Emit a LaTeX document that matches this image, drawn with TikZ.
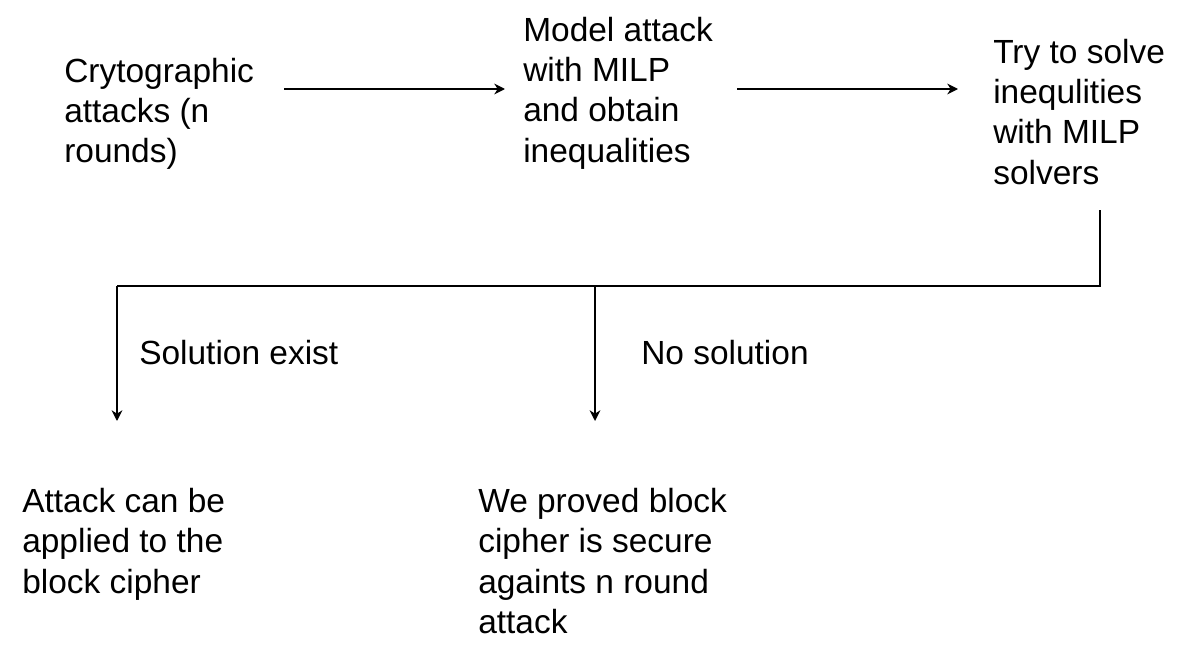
\documentclass[tikz,border=0pt]{standalone}
\usepackage{fontspec}
\setmainfont{Liberation Sans}
\usetikzlibrary{arrows.meta}
\begin{document}
\begin{tikzpicture}[x=0.75pt,y=-0.75pt,
  txt/.style={anchor=north west,inner sep=0pt,align=left,font=\fontsize{25.1pt}{30.3pt}\selectfont},
  conn/.style={line width=2.2pt},
  arr/.style={conn,-{Stealth[length=8pt,width=8pt,inset=2.5pt]}}]
\fill[white] (0,0) rectangle (1182,653);
\useasboundingbox (0,0) rectangle (1182,653);
\node[txt] (crypto) at (64,57.5) {Crytographic\\attacks (n\\rounds)};
\node[txt] (model) at (523,16.5) {Model attack\\with MILP\\and obtain\\inequalities};
\node[txt] (solve) at (993,38.5) {Try to solve\\inequlities\\with MILP\\solvers};
\node[txt] (lyes) at (139,340) {Solution exist};
\node[txt] (lno) at (641,340) {No solution};
\node[txt] (attack) at (22,488) {Attack can be\\applied to the\\block cipher};
\node[txt] (secure) at (478,488) {We proved block\\cipher is secure\\againts n round\\attack};
\coordinate (a1s) at (284,89);
\coordinate (a1e) at (505,89);
\coordinate (a2s) at (737,89);
\coordinate (a2e) at (958,89);
\coordinate (vs) at (1100,210);
\coordinate (vc) at (1100,286);
\coordinate (hl) at (117,286);
\coordinate (hm) at (595,286);
\coordinate (dl) at (117,421);
\coordinate (dm) at (595,421);
\draw[arr] (a1s) -- (a1e);
\draw[arr] (a2s) -- (a2e);
\draw[conn] (vs) -- (vc) -- (hl);
\draw[arr] (hl) -- (dl);
\draw[arr] (hm) -- (dm);
\end{tikzpicture}
\end{document}
